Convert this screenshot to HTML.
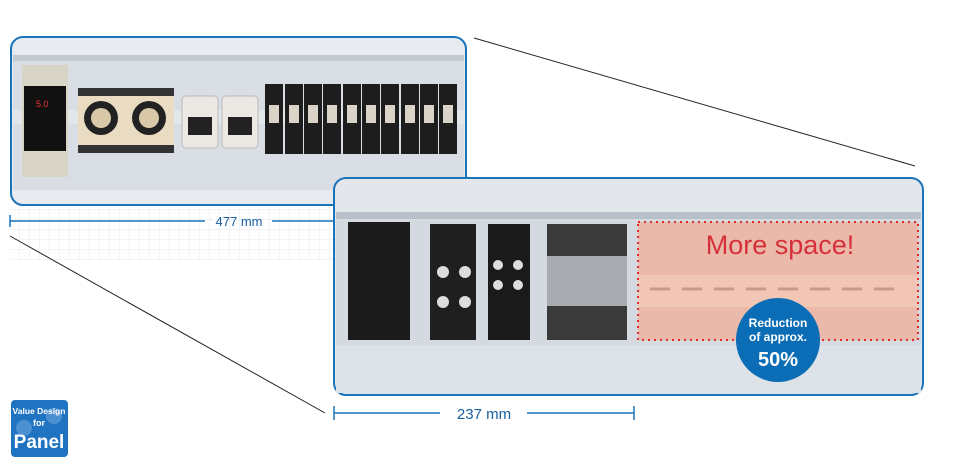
<!DOCTYPE html>
<html><head><meta charset="utf-8"><style>
body{margin:0;width:974px;height:470px;background:#fff;position:relative;overflow:hidden;font-family:"Liberation Sans",sans-serif}
.a{position:absolute}
</style></head><body>
<svg class="a" style="left:0;top:0" width="974" height="470">
<defs>
<pattern id="g" width="10" height="10" patternUnits="userSpaceOnUse"><path d="M10 0V10H0" fill="none" stroke="#e4e8ee" stroke-width="1"/></pattern>
</defs>
<rect x="10" y="205" width="330" height="55" fill="url(#g)"/>
<line x1="474" y1="38" x2="915" y2="166" stroke="#222" stroke-width="1"/>
<line x1="10" y1="236" x2="325" y2="413" stroke="#222" stroke-width="1"/>
<!-- box1 -->
<rect x="11" y="37" width="455" height="168" rx="12" fill="#e8ebef" stroke="#1a74ba" stroke-width="2"/>
<rect x="13" y="55" width="451" height="135" fill="#d9dee5"/>
<rect x="13" y="55" width="451" height="6" fill="#c3c9d1"/>
<rect x="13" y="110" width="451" height="14" fill="#e4e7ea"/>
<rect x="22" y="65" width="46" height="112" fill="#d8d4c6"/>
<rect x="24" y="86" width="42" height="65" fill="#111"/>
<text x="36" y="107" font-size="9" fill="#e33">5.0</text>
<rect x="78" y="88" width="48" height="60" fill="#e9dcc3"/><rect x="126" y="88" width="48" height="60" fill="#e9dcc3"/>
<circle cx="101" cy="118" r="17" fill="#222"/><circle cx="101" cy="118" r="10" fill="#d9c9a8"/>
<circle cx="149" cy="118" r="17" fill="#222"/><circle cx="149" cy="118" r="10" fill="#d9c9a8"/>
<rect x="78" y="88" width="96" height="8" fill="#333"/><rect x="78" y="145" width="96" height="8" fill="#333"/>
<rect x="182" y="96" width="36" height="52" rx="4" fill="#ece9e4" stroke="#bbb"/><rect x="222" y="96" width="36" height="52" rx="4" fill="#ece9e4" stroke="#bbb"/>
<rect x="188" y="117" width="24" height="18" fill="#222"/><rect x="228" y="117" width="24" height="18" fill="#222"/>
<g fill="#1d1d1d">
<rect x="265" y="84" width="18" height="70"/><rect x="285" y="84" width="18" height="70"/><rect x="304" y="84" width="18" height="70"/><rect x="323" y="84" width="18" height="70"/><rect x="343" y="84" width="18" height="70"/><rect x="362" y="84" width="18" height="70"/><rect x="381" y="84" width="18" height="70"/><rect x="401" y="84" width="18" height="70"/><rect x="420" y="84" width="18" height="70"/><rect x="439" y="84" width="18" height="70"/>
</g>
<g fill="#d9d3c8"><rect x="269" y="105" width="10" height="18"/><rect x="289" y="105" width="10" height="18"/><rect x="308" y="105" width="10" height="18"/><rect x="327" y="105" width="10" height="18"/><rect x="347" y="105" width="10" height="18"/><rect x="366" y="105" width="10" height="18"/><rect x="385" y="105" width="10" height="18"/><rect x="405" y="105" width="10" height="18"/><rect x="424" y="105" width="10" height="18"/><rect x="443" y="105" width="10" height="18"/></g>
<!-- 477 -->
<line x1="10" y1="221" x2="205" y2="221" stroke="#1a74ba" stroke-width="1.5"/>
<line x1="272" y1="221" x2="335" y2="221" stroke="#1a74ba" stroke-width="1.5"/>
<line x1="10" y1="215" x2="10" y2="227" stroke="#1a74ba" stroke-width="1.5"/>
<text x="239" y="226" font-size="13" fill="#1a5fa0" text-anchor="middle">477 mm</text>
<!-- box2 -->
<rect x="334" y="178" width="589" height="217" rx="12" fill="#e3e7ec" stroke="#1a74ba" stroke-width="2"/>
<rect x="336" y="212" width="585" height="133" fill="#d5dae1"/>
<rect x="336" y="212" width="585" height="7" fill="#b9c0c9"/>
<rect x="336" y="345" width="585" height="48" fill="#dde2e8"/>
<rect x="348" y="222" width="62" height="118" fill="#1b1b1b"/>
<rect x="430" y="224" width="46" height="116" fill="#1f1f1f"/>
<circle cx="443" cy="272" r="6" fill="#ddd"/><circle cx="465" cy="272" r="6" fill="#ddd"/><circle cx="443" cy="302" r="6" fill="#ddd"/><circle cx="465" cy="302" r="6" fill="#ddd"/>
<rect x="488" y="224" width="42" height="116" fill="#1a1a1a"/>
<circle cx="498" cy="265" r="5" fill="#ddd"/><circle cx="518" cy="265" r="5" fill="#ddd"/><circle cx="498" cy="285" r="5" fill="#ddd"/><circle cx="518" cy="285" r="5" fill="#ddd"/>
<rect x="547" y="224" width="80" height="116" fill="#3a3a3a"/>
<rect x="547" y="256" width="80" height="50" fill="#a9adb2"/>
<rect x="638" y="222" width="280" height="118" fill="#eab9a9"/>
<rect x="638" y="275" width="280" height="32" fill="#f1c6b5"/>
<line x1="650" y1="289" x2="900" y2="289" stroke="#c99a8a" stroke-width="3" stroke-dasharray="20,12"/>
<rect x="638" y="222" width="280" height="118" fill="none" stroke="#e02a2a" stroke-width="2" stroke-dasharray="2,4"/>
<text x="780" y="254" font-size="27" fill="#d6303a" text-anchor="middle">More space!</text>
<circle cx="778" cy="340" r="42" fill="#0b6db5"/>
<text x="778" y="327" font-size="12" font-weight="bold" fill="#fff" text-anchor="middle">Reduction</text>
<text x="778" y="341" font-size="12" font-weight="bold" fill="#fff" text-anchor="middle">of approx.</text>
<text x="778" y="366" font-size="20" font-weight="bold" fill="#fff" text-anchor="middle">50%</text>
<!-- 237 -->
<line x1="334" y1="413" x2="440" y2="413" stroke="#1a74ba" stroke-width="1.5"/>
<line x1="527" y1="413" x2="634" y2="413" stroke="#1a74ba" stroke-width="1.5"/>
<line x1="334" y1="406" x2="334" y2="420" stroke="#1a74ba" stroke-width="1.5"/>
<line x1="634" y1="406" x2="634" y2="420" stroke="#1a74ba" stroke-width="1.5"/>
<text x="484" y="419" font-size="15" fill="#1a5fa0" text-anchor="middle">237 mm</text>
<!-- logo -->
<rect x="11" y="400" width="57" height="57" rx="4" fill="#1f73c0"/>
<circle cx="54" cy="416" r="8" fill="#6aa3dc" opacity=".6"/><circle cx="24" cy="428" r="8" fill="#6aa3dc" opacity=".6"/>
<text x="39" y="414" font-size="8.5" font-weight="bold" fill="#fff" text-anchor="middle">Value Design</text>
<text x="39" y="426" font-size="9" font-weight="bold" fill="#fff" text-anchor="middle">for</text>
<text x="39" y="448" font-size="19" font-weight="bold" fill="#fff" text-anchor="middle">Panel</text>
</svg>
</body></html>
